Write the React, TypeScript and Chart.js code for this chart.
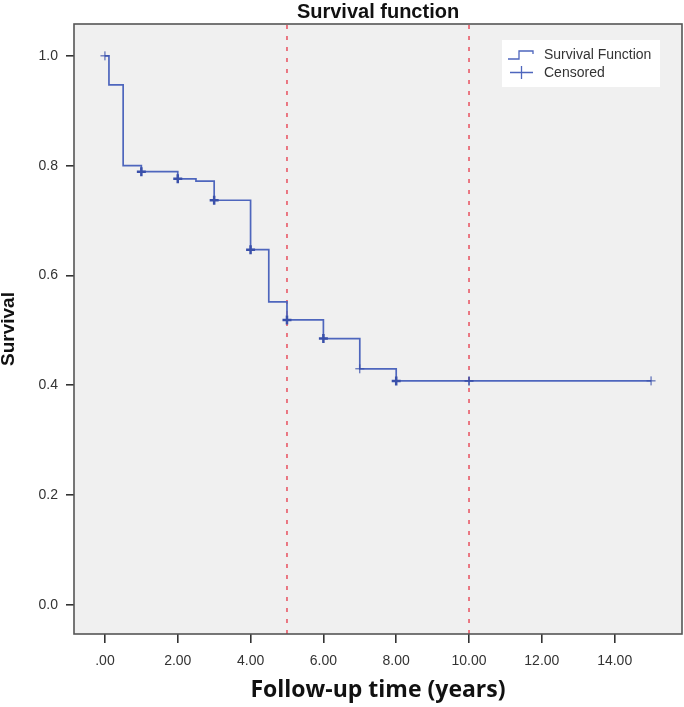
import React, { useEffect, useRef } from "react";
import { Chart, registerables } from "chart.js";

Chart.register(...registerables);

// ---- data ----
const survivalTimes = [0, 0.11, 0.5, 1, 2, 2.5, 3, 4, 4.5, 5, 6, 7, 8, 15];
const survivalValues = [1.0, 0.947, 0.8, 0.789, 0.776, 0.772, 0.737, 0.647, 0.552, 0.519, 0.485, 0.43, 0.408, 0.408];
const censoredTimes = [0, 1, 2, 3, 4, 5, 6, 7, 8, 10, 15];
const censoredValues = [1.0, 0.789, 0.776, 0.737, 0.647, 0.519, 0.485, 0.43, 0.408, 0.408, 0.408];
const referenceTimes = [5, 10];
const xTickValues = [0, 2, 4, 6, 8, 10, 12, 14];
const yTickValues = [0, 0.2, 0.4, 0.6, 0.8, 1.0];
const xRange = [-0.85, 15.85];
const yRange = [-0.053, 1.058];

// styles (kept apart from data)
const censorMarkWidths = [1, 2.5, 2.5, 2.5, 2.5, 2.5, 2.5, 1, 2.5, 1.6, 1];
const LINE_COLOR = "#4e66bd";
const CENSOR_COLOR = "#3a50aa";
const REF_COLOR = "#e8505e";
const FONT = "'Liberation Sans', Arial, sans-serif";

const frameAndLegend = {
  id: "frameAndLegend",
  beforeDraw(chart: any) {
    const { ctx, chartArea: a } = chart;
    ctx.save();
    ctx.fillStyle = "#f0f0f0";
    ctx.fillRect(a.left, a.top, a.right - a.left, a.bottom - a.top);
    ctx.restore();
  },
  afterDraw(chart: any) {
    const { ctx, chartArea: a } = chart;
    ctx.save();
    ctx.strokeStyle = "#555";
    ctx.lineWidth = 1.6;
    ctx.strokeRect(a.left, a.top, a.right - a.left, a.bottom - a.top);

    // legend box
    const bx = a.right - 180;
    const by = a.top + 16;
    const bw = 158;
    const bh = 47;
    ctx.fillStyle = "#ffffff";
    ctx.fillRect(bx, by, bw, bh);

    // step icon
    ctx.strokeStyle = LINE_COLOR;
    ctx.lineWidth = 1.3;
    ctx.beginPath();
    ctx.moveTo(bx + 6, by + 19);
    ctx.lineTo(bx + 17, by + 19);
    ctx.lineTo(bx + 17, by + 11);
    ctx.lineTo(bx + 31, by + 11);
    ctx.lineTo(bx + 31, by + 14);
    ctx.stroke();

    // cross icon
    ctx.beginPath();
    ctx.moveTo(bx + 8, by + 32.5);
    ctx.lineTo(bx + 31, by + 32.5);
    ctx.moveTo(bx + 19.5, by + 26);
    ctx.lineTo(bx + 19.5, by + 39);
    ctx.stroke();

    ctx.fillStyle = "#333";
    ctx.font = `14px ${FONT}`;
    ctx.textBaseline = "middle";
    ctx.textAlign = "left";
    ctx.fillText("Survival Function", bx + 42, by + 15);
    ctx.fillText("Censored", bx + 42, by + 33);
    ctx.restore();
  },
};

export default function App() {
  const ref = useRef<HTMLCanvasElement | null>(null);

  useEffect(() => {
    if (!ref.current) return;
    const survival = survivalTimes.map((t, i) => ({ x: t, y: survivalValues[i] }));
    const censored = censoredTimes.map((t, i) => ({ x: t, y: censoredValues[i] }));
    const refSets = referenceTimes.map((t) => ({
      type: "line" as const,
      label: `ref${t}`,
      data: [
        { x: t, y: yRange[0] },
        { x: t, y: yRange[1] },
      ],
      borderColor: REF_COLOR,
      borderWidth: 1.5,
      borderDash: [4, 7],
      pointRadius: 0,
      fill: false,
      order: 3,
    }));

    const chart = new Chart(ref.current, {
      type: "line",
      data: {
        datasets: [
          {
            type: "scatter",
            label: "Censored",
            data: censored,
            pointStyle: "cross",
            pointRadius: 4.5,
            pointBorderColor: CENSOR_COLOR,
            pointBorderWidth: censorMarkWidths,
            showLine: false,
            order: 0,
          } as any,
          {
            type: "line",
            label: "Survival Function",
            data: survival,
            stepped: "before",
            borderColor: LINE_COLOR,
            borderWidth: 1.7,
            pointRadius: 0,
            fill: false,
            order: 1,
          } as any,
          ...refSets,
        ],
      },
      options: {
        responsive: false,
        animation: false,
        devicePixelRatio: 1,
        layout: { autoPadding: false, padding: { top: 0, right: 2, left: 0, bottom: 0 } },
        plugins: {
          legend: { display: false },
          tooltip: { enabled: false },
          title: {
            display: true,
            text: "Survival function",
            fullSize: false,
            color: "#111",
            font: { family: FONT, size: 20, weight: "bold", lineHeight: 1.2 },
            padding: { top: 0, bottom: 0 },
          },
        },
        scales: {
          x: {
            type: "linear",
            min: xRange[0],
            max: xRange[1],
            afterBuildTicks: (scale: any) => {
              scale.ticks = xTickValues.map((v) => ({ value: v }));
            },
            afterFit: (scale: any) => {
              scale.height = 73;
            },
            border: { display: false },
            grid: {
              drawOnChartArea: false,
              drawTicks: true,
              tickLength: 9,
              color: "#333",
              lineWidth: 1.6,
            },
            ticks: {
              padding: 10,
              color: "#333",
              font: { family: FONT, size: 14 },
              maxRotation: 0,
              autoSkip: false,
              callback: (v: any) => (Number(v) === 0 ? ".00" : Number(v).toFixed(2)),
            },
            title: {
              display: true,
              text: "Follow-up time (years)",
              color: "#111",
              font: { family: "'Open Sans', Lato, sans-serif", size: 23, weight: "bold", lineHeight: 1.2 },
              padding: { top: 0, bottom: 3 },
            },
          },
          y: {
            type: "linear",
            min: yRange[0],
            max: yRange[1],
            afterBuildTicks: (scale: any) => {
              scale.ticks = yTickValues.map((v) => ({ value: v }));
            },
            afterFit: (scale: any) => {
              scale.width = 74;
            },
            border: { display: false },
            grid: {
              drawOnChartArea: false,
              drawTicks: true,
              tickLength: 8,
              color: "#333",
              lineWidth: 1.6,
            },
            ticks: {
              padding: 8,
              color: "#333",
              font: { family: FONT, size: 14 },
              autoSkip: false,
              callback: (v: any) => Number(v).toFixed(1),
            },
            title: {
              display: true,
              text: "Survival",
              color: "#111",
              font: { family: FONT, size: 19, weight: "bold", lineHeight: 0.9 },
              padding: { top: 0, bottom: 0 },
            },
          },
        },
      },
      plugins: [frameAndLegend],
    });
    return () => chart.destroy();
  }, []);

  return (
    <div style={{ position: "absolute", left: 0, top: 0, width: 684, height: 707, background: "#fff" }}>
      <canvas ref={ref} width={684} height={707} style={{ display: "block" }} />
    </div>
  );
}
